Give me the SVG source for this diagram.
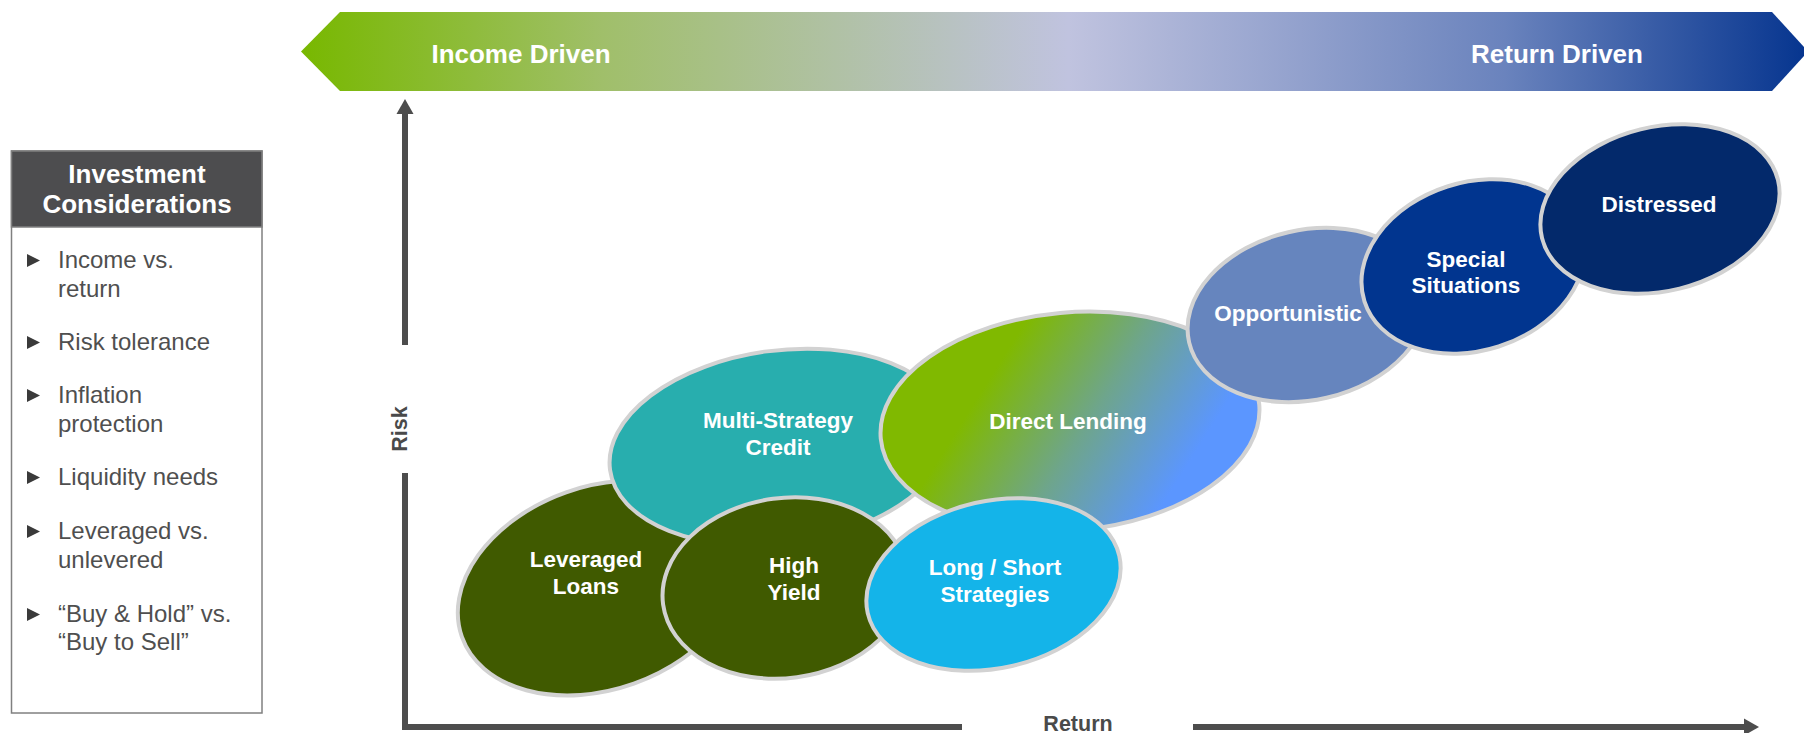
<svg xmlns="http://www.w3.org/2000/svg" width="1804" height="733" viewBox="0 0 1804 733">
<defs>
<linearGradient id="bannerGrad" gradientUnits="userSpaceOnUse" x1="301" y1="0" x2="1806" y2="0">
<stop offset="0" stop-color="#78b800"/>
<stop offset="0.2" stop-color="#a0bf6a"/>
<stop offset="0.51" stop-color="#c0c3df"/>
<stop offset="0.8" stop-color="#6a83bd"/>
<stop offset="1" stop-color="#06358f"/>
</linearGradient>
<linearGradient id="dlGrad" gradientUnits="userSpaceOnUse" x1="1010" y1="350" x2="1180" y2="480">
<stop offset="0" stop-color="#80b900"/>
<stop offset="0.5" stop-color="#6ea58c"/>
<stop offset="1" stop-color="#5b96ff"/>
</linearGradient>
<marker id="arrow" markerUnits="userSpaceOnUse" markerWidth="16" markerHeight="18" refX="3" refY="9" orient="auto" viewBox="0 0 16 18">
<path d="M0,0.5 L15,9 L0,17.5 z" fill="#4d4d4d"/>
</marker>
<style>
.ell { stroke: #d2d2d2; stroke-width: 4; }
.lbl { font-family: "Liberation Sans", Arial, sans-serif; font-weight: bold; font-size: 22.5px; fill: #ffffff; text-anchor: middle; }
.ban { font-family: "Liberation Sans", Arial, sans-serif; font-weight: bold; font-size: 26px; fill: #ffffff; text-anchor: middle; }
.axis { stroke: #4d4d4d; stroke-width: 6; fill: none; }
.axlbl { font-family: "Liberation Sans", Arial, sans-serif; font-weight: bold; font-size: 21.5px; fill: #4a4a4a; text-anchor: middle; }
.item { font-family: "Liberation Sans", Arial, sans-serif; font-size: 24px; fill: #4f4f4f; }
.bul { fill: #3a3a3a; }
.hdr { font-family: "Liberation Sans", Arial, sans-serif; font-weight: bold; font-size: 26px; fill: #ffffff; text-anchor: middle; }
</style>
</defs>
<rect x="0" y="0" width="1804" height="733" fill="#ffffff"/>

<g id="banner">
<polygon points="301,51.5 340,12 1772,12 1808,51.5 1772,91 340,91" fill="url(#bannerGrad)"/>
<text class="ban" x="521" y="63">Income Driven</text>
<text class="ban" x="1557" y="63">Return Driven</text>
</g>

<g id="considerations">
<rect x="11.5" y="151" width="250.5" height="562" fill="#ffffff" stroke="#808080" stroke-width="1.5"/>
<rect x="11.5" y="151" width="250.5" height="76" fill="#4d4d4f" stroke="#808080" stroke-width="1.5"/>
<text class="hdr" x="137" y="183">Investment</text>
<text class="hdr" x="137" y="213">Considerations</text>
<polygon class="bul" points="27,254 40,260.5 27,267"/>
<text class="item" x="58" y="268">Income vs.</text>
<text class="item" x="58" y="297">return</text>
<polygon class="bul" points="27,336 40,342.5 27,349"/>
<text class="item" x="58" y="350">Risk tolerance</text>
<polygon class="bul" points="27,389 40,395.5 27,402"/>
<text class="item" x="58" y="403">Inflation</text>
<text class="item" x="58" y="432">protection</text>
<polygon class="bul" points="27,471 40,477.5 27,484"/>
<text class="item" x="58" y="485">Liquidity needs</text>
<polygon class="bul" points="27,525 40,531.5 27,538"/>
<text class="item" x="58" y="539">Leveraged vs.</text>
<text class="item" x="58" y="568">unlevered</text>
<polygon class="bul" points="27,608 40,614.5 27,621"/>
<text class="item" x="58" y="622">“Buy &amp; Hold” vs.</text>
<text class="item" x="58" y="650">“Buy to Sell”</text>
</g>

<g id="connectors">
<line class="axis" x1="405" y1="345" x2="405" y2="111" marker-end="url(#arrow)"/>
<line class="axis" x1="405" y1="473" x2="405" y2="730"/>
<line class="axis" x1="402" y1="727" x2="962" y2="727"/>
<line class="axis" x1="1193" y1="727" x2="1747" y2="727" marker-end="url(#arrow)"/>
<text class="axlbl" transform="translate(407,429) rotate(-90)">Risk</text>
<text class="axlbl" x="1078" y="731">Return</text>
</g>

<g id="leveraged-loans">
<ellipse class="ell" cx="600" cy="588" rx="146.5" ry="101.5" transform="rotate(-19.5 600 588)" fill="#405a00"/>
<text class="lbl" x="586" y="567">Leveraged</text>
<text class="lbl" x="586" y="594">Loans</text>
</g>

<g id="multi-strategy-credit">
<ellipse class="ell" cx="780" cy="447" rx="171.5" ry="96.5" transform="rotate(-7.7 780 447)" fill="#28aeae"/>
<text class="lbl" x="778" y="428">Multi-Strategy</text>
<text class="lbl" x="778" y="455">Credit</text>
</g>

<g id="high-yield">
<ellipse class="ell" cx="785" cy="588" rx="123" ry="90" transform="rotate(-7.7 785 588)" fill="#405a00"/>
<text class="lbl" x="794" y="573">High</text>
<text class="lbl" x="794" y="600">Yield</text>
</g>

<g id="direct-lending">
<ellipse class="ell" cx="1070" cy="421.5" rx="190" ry="109" transform="rotate(-5.2 1070 421.5)" fill="url(#dlGrad)"/>
<text class="lbl" x="1068" y="429">Direct Lending</text>
</g>

<g id="long-short-strategies">
<ellipse class="ell" cx="993.5" cy="584.5" rx="129" ry="83.5" transform="rotate(-12.8 993.5 584.5)" fill="#14b4e9"/>
<text class="lbl" x="995" y="575">Long / Short</text>
<text class="lbl" x="995" y="602">Strategies</text>
</g>

<g id="opportunistic">
<ellipse class="ell" cx="1307.5" cy="315" rx="121.5" ry="85" transform="rotate(-13 1307.5 315)" fill="#6685be"/>
<text class="lbl" x="1288" y="321">Opportunistic</text>
</g>

<g id="special-situations">
<ellipse class="ell" cx="1473" cy="266.5" rx="114" ry="84" transform="rotate(-17.8 1473 266.5)" fill="#01358f"/>
<text class="lbl" x="1466" y="267">Special</text>
<text class="lbl" x="1466" y="293">Situations</text>
</g>

<g id="distressed">
<ellipse class="ell" cx="1660" cy="209" rx="121.5" ry="82" transform="rotate(-13.8 1660 209)" fill="#03296b"/>
<text class="lbl" x="1659" y="212">Distressed</text>
</g>
</svg>
